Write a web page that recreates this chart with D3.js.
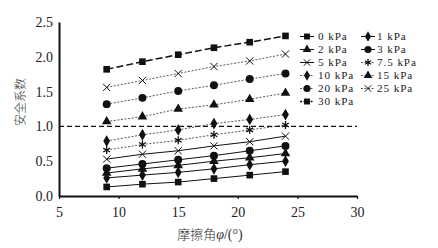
<!DOCTYPE html>
<html>
<head>
<meta charset="utf-8">
<script src="https://cdn.jsdelivr.net/npm/d3@7"></script>
<style>
  html, body { margin: 0; padding: 0; background: #fff; }
  svg { display: block; }
  .tick text { font-family: "Liberation Serif", "DejaVu Serif", serif; font-size: 14px; fill: #222; }
</style>
</head>
<body>
<svg id="chart" width="438" height="248"></svg>
<script>
  // friction angle (deg) at which safety factor was computed
  const phi = [9, 12, 15, 18, 21, 24];

  // safety factor per cohesion level
  const kpa0 = [0.13, 0.17, 0.20, 0.25, 0.30, 0.35];
  const kpa1 = [0.26, 0.30, 0.34, 0.39, 0.45, 0.50];
  const kpa2 = [0.33, 0.39, 0.44, 0.50, 0.55, 0.61];
  const kpa3 = [0.40, 0.46, 0.52, 0.58, 0.65, 0.72];
  const kpa5 = [0.53, 0.60, 0.65, 0.72, 0.78, 0.86];
  const kpa7_5 = [0.66, 0.74, 0.80, 0.88, 0.95, 1.02];
  const kpa10 = [0.79, 0.88, 0.95, 1.04, 1.10, 1.17];
  const kpa15 = [1.07, 1.14, 1.25, 1.31, 1.39, 1.48];
  const kpa20 = [1.32, 1.41, 1.51, 1.59, 1.68, 1.76];
  const kpa25 = [1.56, 1.66, 1.76, 1.86, 1.94, 2.04];
  const kpa30 = [1.82, 1.93, 2.03, 2.13, 2.21, 2.30];

  const seriesNames = ['0 kPa', '1 kPa', '2 kPa', '3 kPa', '5 kPa', '7.5 kPa', '10 kPa', '15 kPa', '20 kPa', '25 kPa', '30 kPa'];
  const seriesValues = [kpa0, kpa1, kpa2, kpa3, kpa5, kpa7_5, kpa10, kpa15, kpa20, kpa25, kpa30];

  const xTicks = [5, 10, 15, 20, 25, 30];
  const yTicks = [0, 0.5, 1.0, 1.5, 2.0, 2.5];
  const limitLine = 1.0;

  // marker + line style per series (same order as seriesNames)
  const SOLID = { dash: null, width: 1, color: '#111' };
  const DOTTED = { dash: '2,1.6', width: 0.9, color: '#444' };
  const LONG = { dash: '7,3', width: 1.5, color: '#111' };
  const styles = [
    { sym: 'square', line: SOLID },
    { sym: 'diamond', line: SOLID },
    { sym: 'triangle', line: SOLID },
    { sym: 'circle', line: SOLID },
    { sym: 'x', line: SOLID },
    { sym: 'asterisk', line: DOTTED },
    { sym: 'diamond', line: DOTTED },
    { sym: 'triangle', line: DOTTED },
    { sym: 'circle', line: DOTTED },
    { sym: 'x', line: DOTTED },
    { sym: 'square', line: LONG },
  ];

  const svg = d3.select('#chart');
  const x = d3.scaleLinear().domain([5, 30]).range([59, 357]);
  const y = d3.scaleLinear().domain([0, 2.5]).range([196, 22]);

  function drawMarker(g, kind, cx, cy, scale) {
    const k = scale || 1;
    if (kind === 'x' || kind === 'asterisk') {
      const type = kind === 'x' ? d3.symbolX : d3.symbolAsterisk;
      g.append('path')
        .attr('d', d3.symbol().type(type).size((kind === 'x' ? 36 : 44) * k)())
        .attr('transform', `translate(${cx},${cy})`)
        .attr('fill', 'none')
        .attr('stroke', '#111')
        .attr('stroke-width', kind === 'x' ? 1 : 1.3);
      return;
    }
    const typeMap = {
      square: [d3.symbolSquare, 44],
      diamond: [d3.symbolDiamond, 40],
      triangle: [d3.symbolTriangle, 40],
      circle: [d3.symbolCircle, 50],
    };
    const t = typeMap[kind];
    g.append('path')
      .attr('d', d3.symbol().type(t[0]).size(t[1] * k)())
      .attr('transform', `translate(${cx},${cy})`)
      .attr('fill', '#111');
  }

  // reference line at FS = 1
  svg.append('line')
    .attr('x1', x(5)).attr('x2', x(30))
    .attr('y1', y(limitLine)).attr('y2', y(limitLine))
    .attr('stroke', '#111')
    .attr('stroke-width', 1.2)
    .attr('stroke-dasharray', '5,3');

  const lineGen = d3.line()
    .x((d, i) => x(phi[i]))
    .y((d) => y(d));

  const plot = svg.append('g');
  seriesValues.forEach((vals, s) => {
    const st = styles[s];
    plot.append('path')
      .datum(vals)
      .attr('d', lineGen)
      .attr('fill', 'none')
      .attr('stroke', st.line.color)
      .attr('stroke-width', st.line.width)
      .attr('stroke-dasharray', st.line.dash);
    vals.forEach((v, i) => drawMarker(plot, st.sym, x(phi[i]), y(v)));
  });

  // axes
  const xAxis = svg.append('g')
    .attr('transform', `translate(0,${y(0)})`)
    .call(d3.axisBottom(x).tickValues(xTicks).tickFormat(d3.format('d')).tickSizeInner(3).tickSizeOuter(0).tickPadding(8));
  const yAxis = svg.append('g')
    .attr('transform', `translate(${x(5)},0)`)
    .call(d3.axisLeft(y).tickValues(yTicks).tickFormat(d3.format('.1f')).tickSize(0).tickPadding(6));
  [xAxis, yAxis].forEach((a) => {
    a.select('.domain').attr('stroke', '#111').attr('stroke-width', 2);
    a.selectAll('.tick line').attr('stroke', '#111').attr('stroke-width', 1.2);
  });

  // axis titles
  svg.append('text')
    .attr('transform', 'translate(25,102) rotate(-90)')
    .attr('text-anchor', 'middle')
    .attr('font-family', '"Noto Sans CJK SC", sans-serif')
    .attr('font-weight', 300)
    .attr('font-size', 12)
    .attr('fill', '#333')
    .text('安全系数');

  const xt = svg.append('text')
    .attr('x', 210)
    .attr('y', 239)
    .attr('text-anchor', 'middle')
    .attr('font-family', '"Noto Sans CJK SC", sans-serif')
    .attr('font-weight', 300)
    .attr('font-size', 13)
    .attr('fill', '#333');
  xt.append('tspan').text('摩擦角');
  xt.append('tspan').attr('font-family', '"Liberation Serif", serif').attr('font-style', 'italic').attr('font-size', 14).text('φ');
  xt.append('tspan').attr('font-family', '"Liberation Serif", serif').attr('font-size', 14).text('/(°)');

  // legend, two columns filled row by row
  const legend = svg.append('g');
  seriesNames.forEach((name, s) => {
    const col = s % 2;
    const row = Math.floor(s / 2);
    const mx = col === 0 ? 307 : 368;
    const my = 36.5 + row * 13;
    const st = styles[s];
    legend.append('line')
      .attr('x1', mx - 7).attr('x2', mx + 7)
      .attr('y1', my).attr('y2', my)
      .attr('stroke', st.line.color)
      .attr('stroke-width', st.line.width)
      .attr('stroke-dasharray', st.line.dash ? '2,1.5' : null);
    drawMarker(legend, st.sym, mx, my, 0.8);
    legend.append('text')
      .attr('x', mx + (col === 0 ? 11 : 9))
      .attr('y', my)
      .attr('dy', '0.35em')
      .attr('font-family', '"Liberation Serif", serif')
      .attr('font-size', 11.2)
      .attr('letter-spacing', 0.9)
      .attr('fill', '#222')
      .text(name);
  });
</script>
</body>
</html>
